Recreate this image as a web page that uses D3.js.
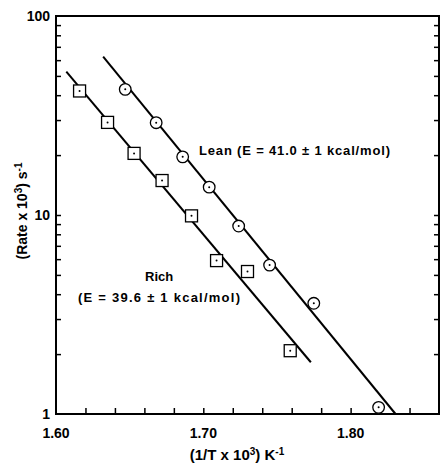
<!DOCTYPE html>
<html lang="en">
<head>
<meta charset="UTF-8">
<title>Rate vs 1/T</title>
<style>
    body { margin: 0; background: #fff; }
    svg { display: block; font-family: "Liberation Sans", Arial, sans-serif; font-weight: bold; }
</style>
</head>
<body>
<svg id="chart" width="440" height="465"></svg>
<script src="https://d3js.org/d3.v7.min.js"></script>
<script>
    // data
    const leanX = [1.647, 1.668, 1.686, 1.704, 1.724, 1.745, 1.775, 1.819];
    const leanRate = [42.8, 29.1, 19.6, 13.8, 8.8, 5.6, 3.6, 1.08];
    const richX = [1.616, 1.635, 1.653, 1.672, 1.692, 1.709, 1.730, 1.759];
    const richRate = [42.0, 29.2, 20.4, 14.9, 9.9, 5.9, 5.2, 2.08];

    // fitted lines (end points)
    const leanFitX = [1.632, 1.8305];
    const leanFitRate = [62.5, 1.0];
    const richFitX = [1.607, 1.773];
    const richFitRate = [52.5, 1.82];

    const xTickLabels = [1.60, 1.70, 1.80];
    const yTickLabels = [1, 10, 100];

    const svg = d3.select("#chart");
    const plotL = 56, plotR = 439, plotT = 16, plotB = 414;

    const x = d3.scaleLinear().domain([1.6, 1.86]).range([plotL, plotR]);
    const y = d3.scaleLog().domain([1, 100]).range([plotB, plotT]);

    // minor ticks
    const xMinor = d3.range(1.62, 1.855, 0.02);
    const yMinor = [];
    [1, 10].forEach(d => { for (let k = 2; k <= 9; k++) yMinor.push(d * k); });
    yMinor.push(10);

    // frame
    svg.append("rect")
        .attr("x", plotL).attr("y", plotT)
        .attr("width", plotR - plotL).attr("height", plotB - plotT)
        .attr("fill", "none").attr("stroke", "#000").attr("stroke-width", 2);

    // bottom ticks (inside)
    const xAxis = d3.axisBottom(x).tickValues(xMinor).tickSize(-6).tickFormat("");
    svg.append("g").attr("transform", `translate(0,${plotB})`).call(xAxis)
        .call(g => g.select(".domain").remove())
        .selectAll("line").attr("stroke-width", 1.5);

    // left & right ticks (inside)
    const yLeft = d3.axisLeft(y).tickValues(yMinor).tickSize(-5).tickFormat("");
    svg.append("g").attr("transform", `translate(${plotL},0)`).call(yLeft)
        .call(g => g.select(".domain").remove())
        .selectAll("line").attr("stroke-width", 1.5);
    const yRight = d3.axisRight(y).tickValues(yMinor).tickSize(-5).tickFormat("");
    svg.append("g").attr("transform", `translate(${plotR},0)`).call(yRight)
        .call(g => g.select(".domain").remove())
        .selectAll("line").attr("stroke-width", 1.5);

    // tick labels
    svg.selectAll(".xl").data(xTickLabels).enter().append("text")
        .attr("x", d => x(d)).attr("y", plotB + 24)
        .attr("text-anchor", "middle").attr("font-size", 14)
        .text(d => d.toFixed(2));
    svg.selectAll(".yl").data(yTickLabels).enter().append("text")
        .attr("x", plotL - 6).attr("y", d => y(d) + 5)
        .attr("text-anchor", "end").attr("font-size", 14)
        .text(d => d);

    // axis titles
    const xt = svg.append("text").attr("x", 237).attr("y", 460)
        .attr("text-anchor", "middle").attr("font-size", 15);
    xt.append("tspan").text("(1/T x 10");
    xt.append("tspan").attr("dy", -5).attr("font-size", 10).text("3");
    xt.append("tspan").attr("dy", 5).text(") K");
    xt.append("tspan").attr("dy", -5).attr("font-size", 10).text("-1");

    const yt = svg.append("text")
        .attr("transform", "translate(27,211) rotate(-90)")
        .attr("text-anchor", "middle").attr("font-size", 14);
    yt.append("tspan").text("(Rate x 10");
    yt.append("tspan").attr("dy", -5).attr("font-size", 10).text("3");
    yt.append("tspan").attr("dy", 5).text(") s");
    yt.append("tspan").attr("dy", -5).attr("font-size", 10).text("-1");

    // fitted lines
    const line = d3.line().x(d => x(d[0])).y(d => y(d[1]));
    svg.append("path").datum(leanFitX.map((v, i) => [v, leanFitRate[i]]))
        .attr("d", line).attr("fill", "none").attr("stroke", "#000").attr("stroke-width", 2);
    svg.append("path").datum(richFitX.map((v, i) => [v, richFitRate[i]]))
        .attr("d", line).attr("fill", "none").attr("stroke", "#000").attr("stroke-width", 2);

    // lean: circles with centre dot
    const lean = leanX.map((v, i) => [v, leanRate[i]]);
    svg.selectAll(".lc").data(lean).enter().append("circle")
        .attr("cx", d => x(d[0])).attr("cy", d => y(d[1])).attr("r", 5.8)
        .attr("fill", "#fff").attr("stroke", "#000").attr("stroke-width", 1.3);
    svg.selectAll(".ld").data(lean).enter().append("circle")
        .attr("cx", d => x(d[0])).attr("cy", d => y(d[1])).attr("r", 1)
        .attr("fill", "#000");

    // rich: squares with centre dot
    const rich = richX.map((v, i) => [v, richRate[i]]);
    svg.selectAll(".rs").data(rich).enter().append("rect")
        .attr("x", d => x(d[0]) - 6).attr("y", d => y(d[1]) - 6)
        .attr("width", 12).attr("height", 12)
        .attr("fill", "#fff").attr("stroke", "#000").attr("stroke-width", 1.3);
    svg.selectAll(".rd").data(rich).enter().append("circle")
        .attr("cx", d => x(d[0])).attr("cy", d => y(d[1])).attr("r", 1)
        .attr("fill", "#000");

    // annotations
    svg.append("text").attr("x", 199).attr("y", 155).attr("font-size", 13)
        .attr("textLength", 191).attr("lengthAdjust", "spacing")
        .text("Lean (E = 41.0 ± 1 kcal/mol)");
    svg.append("text").attr("x", 145).attr("y", 281).attr("font-size", 13)
        .text("Rich");
    svg.append("text").attr("x", 78).attr("y", 302).attr("font-size", 13)
        .attr("textLength", 162).attr("lengthAdjust", "spacing")
        .text("(E = 39.6  ± 1 kcal/mol)");
</script>
</body>
</html>
